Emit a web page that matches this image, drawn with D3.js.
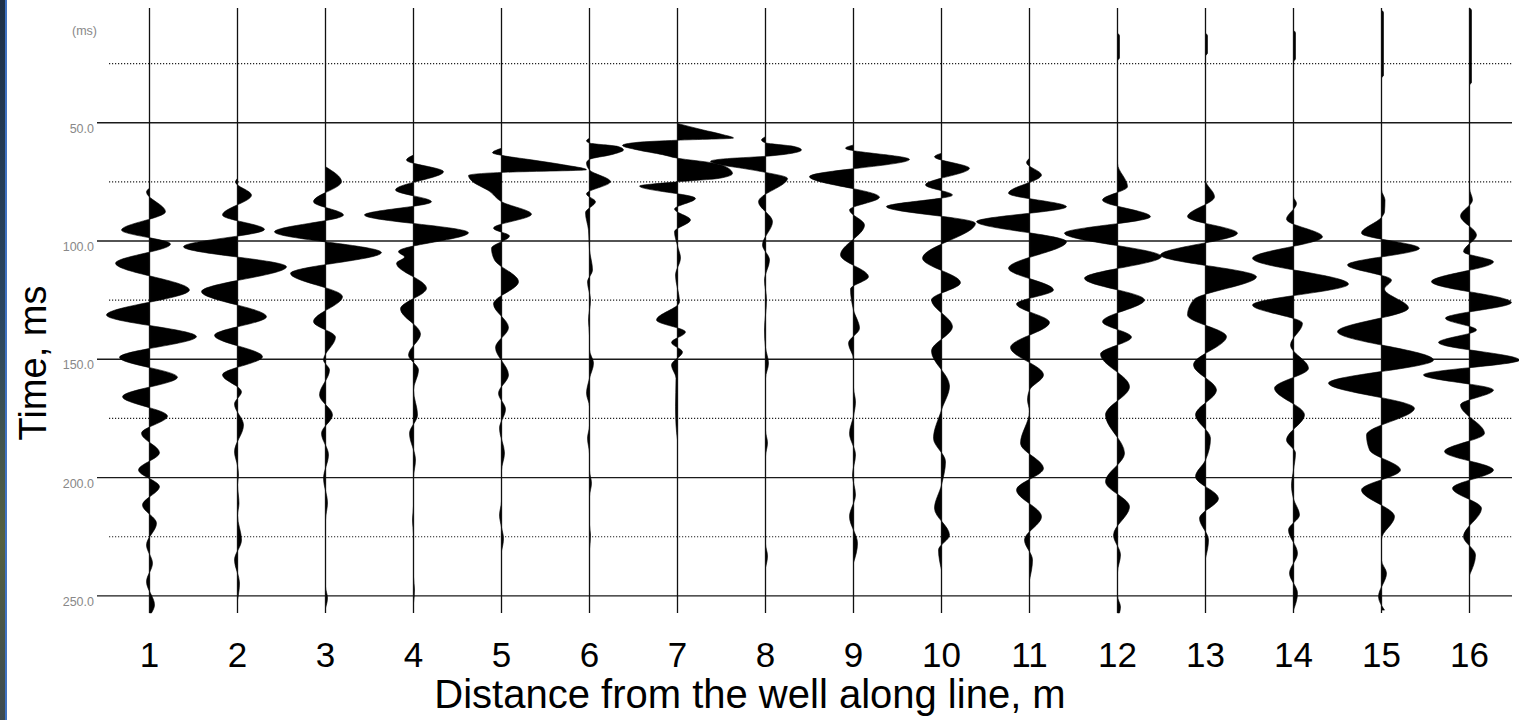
<!DOCTYPE html>
<html>
<head>
<meta charset="utf-8">
<script src="https://cdn.jsdelivr.net/npm/d3@7"></script>
<style>
  html, body { margin: 0; padding: 0; background: #fff; }
  svg { display: block; }
</style>
</head>
<body>
<svg id="chart" width="1519" height="720"></svg>
<script>
// ---- data ------------------------------------------------------------
// Offset of each receiver from the well (m)
const distances = [1, 2, 3, 4, 5, 6, 7, 8, 9, 10, 11, 12, 13, 14, 15, 16];
// Labelled time lines (ms) and the dotted lines between them
const majorTimes = [50, 100, 150, 200, 250];
const minorTimes = [25, 75, 125, 175, 225];
// Recorded time window of every trace (ms)
const recordWindow = [1.5, 257.2];

// Picked wavelet samples for each trace: [time ms, amplitude]
// amplitude is expressed so that 88 equals one trace spacing
const trace01 = [[77.6,0],[79.3,-3],[87.6,16],[95.4,-28],[101.3,21],[109.4,-34],[120.7,40],[131.3,-43],[140.4,47],[149.2,-30],[157.6,28],[165.8,-27],[174.0,18],[181.3,-8],[189.5,10],[196.8,-11],[203.8,10],[211.6,-7],[219.3,7],[228.5,-3],[236.2,3],[244.0,-3],[253.8,5],[257.2,2]];
const trace02 = [[73.5,0],[75.1,-2],[80.6,14],[89.0,-15],[95.1,27],[102.4,-54],[110.9,49],[121.4,-36],[132.0,29],[139.9,-23],[148.9,25],[156.6,-15],[163.7,4],[168.9,-3],[177.8,6],[189.1,-3],[195,0],[198.9,1],[203,0],[210.9,1.5],[216,0],[226.4,4],[234.8,-3],[244.6,2],[251.7,0]];
const trace03 = [[68.6,0],[74.9,16],[83.4,-12],[89.0,18],[96.1,-51],[104.9,56],[113.7,-35],[123.5,17],[134.1,-12],[140.6,10],[150.3,-2],[154.5,4],[165.1,-6],[173.5,7],[181.3,-4],[190.4,3],[200.3,-2],[210.7,2],[218,0],[246,0],[250.9,2],[255.1,0]];
const trace04 = [[63.7,0],[65.8,-7],[70.7,30],[78.4,-18],[83.4,18],[89.0,-49],[96.5,55],[104.5,-15],[106.8,-9],[109.4,-17],[120.0,13],[128.7,-13],[139.3,7],[148.2,-5],[154.5,5],[163,0],[173.5,4],[181.3,-4],[192.6,2],[200,0],[212,0],[218,-1],[224,0],[242,0],[247.5,1],[253,0]];
const trace05 = [[60.8,0],[62.7,-9],[63.8,0],[65.7,30],[67.8,62],[69.9,85],[71.0,0],[72.3,-33],[74.5,-30],[79.0,-12],[83.4,0],[88.7,30],[94.6,-8],[97.9,8],[103.1,-10],[108.0,-7],[117.2,17],[126.6,-8],[136.6,7],[145.0,-6],[156.6,7],[164.4,-3],[171.1,4],[179.2,-2],[189.7,3],[197,0],[210,0],[215.8,-2],[221,0],[225.7,2],[231,0]];
const trace06 = [[56.6,0],[57.6,-3],[58.6,0],[60.0,28],[61.5,34],[63.5,22],[65.5,0],[67.0,-3],[70,0],[74.9,21],[80.1,-3],[83.4,6],[88.0,-4],[95.4,-1],[103.8,0],[112.3,3],[117.3,-2],[124.9,1],[133.4,-1],[140,0],[146,0],[151.7,4],[158,0],[164.4,-3],[170,0],[178,0],[183.4,-2],[190,0],[197,0],[202.4,2],[208,0],[220,0],[224.3,1],[230,0]];
const trace07 = [[50.3,0],[53.0,25],[55.0,45],[56.5,56],[57.4,0],[58.3,-40],[59.6,-55],[61.5,-40],[63.5,-15],[65.0,0],[67.0,35],[69.0,50],[71.5,55],[73.5,42],[75.0,0],[76.8,-38],[82.0,18],[86.5,-3],[91.1,13],[96.1,-3],[102,0],[107.2,3],[114.4,-2],[125.8,2],[133.4,-21],[138.5,8],[142.9,-6],[146.9,5],[152.4,-6],[158,-1.5],[170,-2],[177.8,-1.5],[184.1,0]];
const trace08 = [[55.9,0],[57.3,-4],[58.5,0],[60.0,28],[61.5,36],[62.8,28],[64.2,0],[65.3,-42],[66.3,-55],[67.8,-45],[69.5,-20],[71.0,0],[73.5,22],[83.4,-7],[91.8,7],[101.7,-3],[108.0,4],[116.5,-1],[124.9,1],[137.6,-1],[145,0],[151.7,3],[158,0],[180,0],[185.4,2],[191,0],[228,0],[233.1,2],[238,0]];
const trace09 = [[59.4,0],[60.8,-8],[65.5,56],[72.8,-44],[81.5,26],[86.9,-4],[93.2,11],[105.9,-13],[115.1,15],[120.3,-3],[129.2,0],[136.9,6],[143.2,-5],[150,0],[162,0],[168.0,2],[174,0],[181.3,-4],[190.4,2],[198.9,-1],[207.3,2],[216.5,-4],[227.8,4],[236,0]];
const trace10 = [[62.9,0],[64.4,-7],[69.3,28],[76.3,-16],[80.6,11],[85.5,-55],[92.5,34],[107.3,-19],[117.6,19],[124.9,-10],[136.2,11],[146.5,-10],[161.3,8],[171.4,0],[183.4,-8],[193.3,4],[203.1,0],[213.0,-7],[224.3,8],[230.6,-3],[239,0]];
const trace11 = [[65.0,0],[66.9,-3],[72.1,12],[79.8,-21],[85.5,37],[91.8,-53],[100.3,37],[111.5,-21],[120.7,24],[126.6,-13],[134.4,20],[145.0,-19],[156.6,14],[163,0],[167.2,-2],[172,0],[185.5,-9],[196.1,14],[205.2,-13],[216.5,12],[226.4,-5],[234.8,3],[243.2,0]];
const trace12 = [[12.1,0],[13.3,2],[22.6,2],[23.9,0],[67.2,0],[77.0,10],[82.7,-15],[89.7,33],[96.7,-53],[106.6,44],[115.8,-33],[124.9,27],[134.1,-15],[140.6,14],[147.8,-17],[161.6,12],[173.5,-12],[189.7,7],[201.7,-12],[212.3,12],[224.3,-4],[232.7,3],[240,0],[250,0],[254.7,3],[257.2,2]];
const trace13 = [[12.1,0],[13.3,2],[20.6,2],[21.8,0],[74.2,0],[81.3,9],[89.7,-18],[96.7,32],[105.9,-45],[115.1,51],[124.9,-12],[131.3,-18],[140.4,21],[152.4,-12],[163.0,11],[173.5,-10],[183.4,5],[192.6,0],[199.6,-10],[208.8,13],[217.2,-6],[226.4,3],[234,0]];
const trace14 = [[10.9,0],[12.1,2],[23.0,2],[24.3,0],[81.3,0],[84.1,3],[90.8,-7],[98.2,29],[107.3,-41],[118.2,55],[127.1,-41],[134.8,9],[144,-3],[153.8,15],[162.2,-19],[173.5,11],[184.1,-7],[189.6,2],[196.8,0],[203.2,-2],[209,0],[215.8,6],[222.1,-5],[232.0,4],[240.4,-4],[248.9,4],[256,0]];
const trace15 = [[2.4,0],[3.5,2],[30.0,2],[31.1,0],[78.4,0],[82.7,3.5],[87.7,3],[90,0],[96.7,-20],[103.1,38],[110.1,-34],[116.5,10],[120.3,3],[128.3,27],[138.3,-44],[150.3,52],[160.1,-53],[170.7,33],[182.0,-15],[188.3,-12],[196.8,19],[205.2,-20],[216.5,13],[226,0],[235,0],[240.4,5],[250.3,-3],[256,3]];
const trace16 = [[1.5,0],[2.5,2],[33,2],[34.1,0],[77.7,0],[82.7,3],[89.4,-9],[97.5,7],[104.5,-6],[108.8,24],[117.2,-38],[126.0,42],[132.7,-24],[137.6,7],[142.9,-31],[150.3,50],[156.6,-46],[163.0,24],[169.3,-9],[181.3,15],[189.0,-25],[196.8,24],[204.5,-17],[213.0,12],[225.0,-6],[232.7,6],[241.2,0]];

const traces = [trace01, trace02, trace03, trace04, trace05, trace06, trace07, trace08,
                trace09, trace10, trace11, trace12, trace13, trace14, trace15, trace16];

// ---- layout ------------------------------------------------------------
const svg = d3.select("#chart");
const W = 1519, H = 720;
const plotLeft = 97, plotRight = 1512, dottedLeft = 109;
const FONT = "'Liberation Sans', Arial, Helvetica, sans-serif";

const x = d3.scaleLinear().domain([1, 16]).range([149.5, 1469.5]);
const y = d3.scaleLinear().domain([50, 250]).range([122.7, 595.9]);
const spacing = x(2) - x(1);
const amp = d3.scaleLinear().domain([0, 88]).range([0, spacing]);

svg.append("rect").attr("width", W).attr("height", H).attr("fill", "#fff");

// slide backdrop strip on the left edge
const defs = svg.append("defs");
const grad = defs.append("linearGradient").attr("id", "edge").attr("x1", 0).attr("y1", 0).attr("x2", 0).attr("y2", 1);
grad.append("stop").attr("offset", "0%").attr("stop-color", "#1d3048");
grad.append("stop").attr("offset", "45%").attr("stop-color", "#2b4660");
grad.append("stop").attr("offset", "75%").attr("stop-color", "#55603f");
grad.append("stop").attr("offset", "100%").attr("stop-color", "#3c4a52");
svg.append("rect").attr("x", 0).attr("y", 0).attr("width", 5).attr("height", H).attr("fill", "url(#edge)");
svg.append("rect").attr("x", 5).attr("y", 0).attr("width", 2).attr("height", H).attr("fill", "#3f72c2");

// ---- time grid ---------------------------------------------------------
svg.append("g").selectAll("line").data(minorTimes).join("line")
  .attr("x1", dottedLeft).attr("x2", plotRight)
  .attr("y1", d => y(d)).attr("y2", d => y(d))
  .attr("stroke", "#222").attr("stroke-width", 1.2)
  .attr("stroke-dasharray", "1.2,1.8");

svg.append("g").selectAll("line").data(majorTimes).join("line")
  .attr("x1", plotLeft).attr("x2", plotRight)
  .attr("y1", d => y(d)).attr("y2", d => y(d))
  .attr("stroke", "#1a1a1a").attr("stroke-width", 1.4);

// time labels sit just under their lines
svg.append("g").selectAll("text").data(majorTimes).join("text")
  .attr("x", 94).attr("y", d => y(d) + 10)
  .attr("text-anchor", "end")
  .attr("font-family", FONT).attr("font-size", 12.5)
  .attr("fill", "#888")
  .text(d => d3.format(".1f")(d));

svg.append("text")
  .attr("x", 97).attr("y", 35)
  .attr("text-anchor", "end")
  .attr("font-family", FONT).attr("font-size", 12.5)
  .attr("fill", "#888")
  .text("(ms)");

// ---- traces (variable area, both polarities filled) -------------------
const area = d3.area()
  .curve(d3.curveMonotoneY)
  .y(d => y(d[0]))
  .x0(0)
  .x1(d => amp(d[1]));

const tg = svg.append("g").selectAll("g").data(traces).join("g")
  .attr("transform", (d, i) => `translate(${x(distances[i])},0)`);

tg.append("path")
  .attr("d", d => area(d))
  .attr("fill", "#000")
  .attr("stroke", "#000")
  .attr("stroke-width", 0.6)
  .attr("stroke-linejoin", "round");

tg.append("line")
  .attr("x1", 0).attr("x2", 0)
  .attr("y1", y(recordWindow[0])).attr("y2", y(recordWindow[1]))
  .attr("stroke", "#111").attr("stroke-width", 1.3);

// ---- axis titles and distance labels ---------------------------------
svg.append("g").selectAll("text").data(distances).join("text")
  .attr("x", d => x(d)).attr("y", 667)
  .attr("text-anchor", "middle")
  .attr("font-family", FONT).attr("font-size", 35)
  .attr("fill", "#000")
  .text(d => d);

svg.append("text")
  .attr("x", 750).attr("y", 708)
  .attr("text-anchor", "middle")
  .attr("font-family", FONT).attr("font-size", 40)
  .attr("fill", "#000")
  .text("Distance from the well along line, m");

svg.append("text")
  .attr("transform", "translate(46,363) rotate(-90)")
  .attr("text-anchor", "middle")
  .attr("font-family", FONT).attr("font-size", 38)
  .attr("fill", "#000")
  .text("Time, ms");
</script>
</body>
</html>
